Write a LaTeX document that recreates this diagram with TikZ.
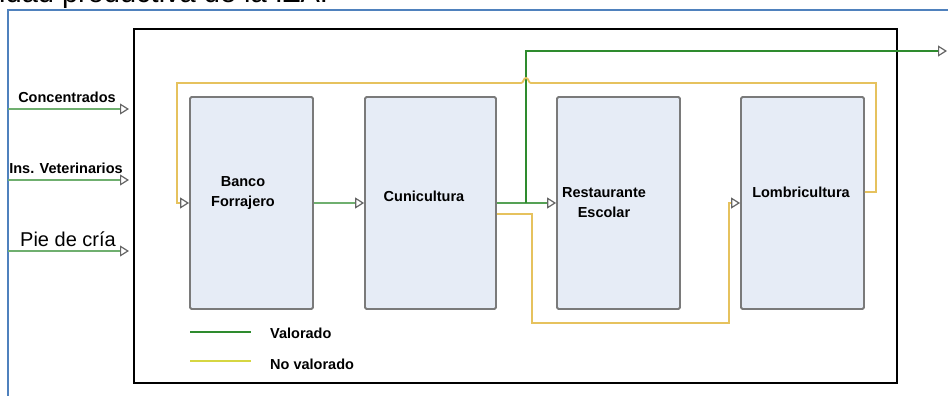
\documentclass[tikz,border=0pt]{standalone}
\usepackage{fontspec}
\setmainfont{Liberation Sans}
\usetikzlibrary{arrows.meta}
\definecolor{gin}{HTML}{6FAF6F}
\definecolor{gval}{HTML}{2E8B2E}
\definecolor{ynv}{HTML}{E6C25E}
\definecolor{ylg}{HTML}{D6D642}
\definecolor{boxfill}{HTML}{E6ECF6}
\definecolor{boxline}{HTML}{7A7A7A}
\definecolor{frameblue}{HTML}{4F81BD}
\begin{document}
\begin{tikzpicture}[x=1pt,y=-1pt,
  proc/.style={draw=boxline,line width=1.8pt,fill=boxfill,rounded corners=1.5pt,minimum height=212pt,inner sep=0pt},
  lbl/.style={font=\fontsize{14.5}{20}\selectfont\bfseries,align=center,inner sep=0pt},
  tip/.style={-{Triangle[length=9pt,width=11pt,fill=white,color=black!60,line width=1.2pt]}},
  inflow/.style={gin,line width=2pt,tip},
  valflow/.style={gval,line width=1.4pt},
  nvflow/.style={ynv,line width=1.8pt}
]
\useasboundingbox (0,0) rectangle (948,396);
\clip (0,0) rectangle (948,396);

% caption fragment (cut off at the top)
\node[anchor=base west,font=\fontsize{29}{30}\selectfont,inner sep=0pt] (cap) at (-1,3) {idad productiva de la IZA.};

% frames
\draw[frameblue,line width=2.2pt] (8,396) -- (8,10) -- (948,10);
\draw[line width=1.5pt] (134,29) rectangle (897,383);

% process boxes
\node[proc,minimum width=123pt] (banco) at (251.5,203) {};
\node[proc,minimum width=131pt] (cuni) at (430.5,203) {};
\node[proc,minimum width=123pt] (rest) at (618.5,203) {};
\node[proc,minimum width=123pt] (lomb) at (802.5,203) {};

\node[lbl] (bancoT) at (243,193) {Banco\\Forrajero};
\node[lbl] (cuniT) at (424,196) {Cunicultura};
\node[lbl] (restT) at (604,203) {Restaurante\\Escolar};
\node[lbl] (lombT) at (801,192) {Lombricultura};

% inputs
\coordinate (in1s) at (8,109);  \coordinate (in1e) at (129,109);
\coordinate (in2s) at (8,180);  \coordinate (in2e) at (129,180);
\coordinate (in3s) at (8,251);  \coordinate (in3e) at (129,251);
\draw[inflow] (in1s) -- (in1e);
\draw[inflow] (in2s) -- (in2e);
\draw[inflow] (in3s) -- (in3e);
\node[lbl] (t1) at (67,97) {Concentrados};
\node[lbl] (t2) at (66,168) {Ins. Veterinarios};
\node[font=\fontsize{20}{22}\selectfont,inner sep=0pt,anchor=base] (t3) at (68,246) {Pie de cría};

% valued flows
\draw[gin,line width=2pt,tip] (banco.east) -- (cuni.west);
\draw[gin!60!gval,line width=1.8pt,tip] (cuni.east) -- (rest.west);
\coordinate (br) at (526,203);
\coordinate (out) at (947,51);
\draw[valflow,tip] (br) -- (br |- out) -- (out);

% non-valued flows
\draw[nvflow,tip] ([yshift=11pt]lomb.east) -| (876,83) -- (531,83)
   .. controls (528,83) and (529,78) .. (526,78)
   .. controls (523,78) and (524,83) .. (521,83)
   -- (177,83) |- (banco.west);
\draw[nvflow,tip] ([yshift=-11pt]cuni.east) -| (532,323) -- (729,323) |- (lomb.west);

% legend
\coordinate (l1a) at (190,332); \coordinate (l1b) at (251,332);
\coordinate (l2a) at (190,361); \coordinate (l2b) at (251,361);
\draw[gval,line width=1.8pt] (l1a) -- (l1b);
\draw[ylg,line width=1.8pt] (l2a) -- (l2b);
\node[lbl,anchor=west] (lg1) at (270,333) {Valorado};
\node[lbl,anchor=west] (lg2) at (270,364) {No valorado};
\end{tikzpicture}
\end{document}
